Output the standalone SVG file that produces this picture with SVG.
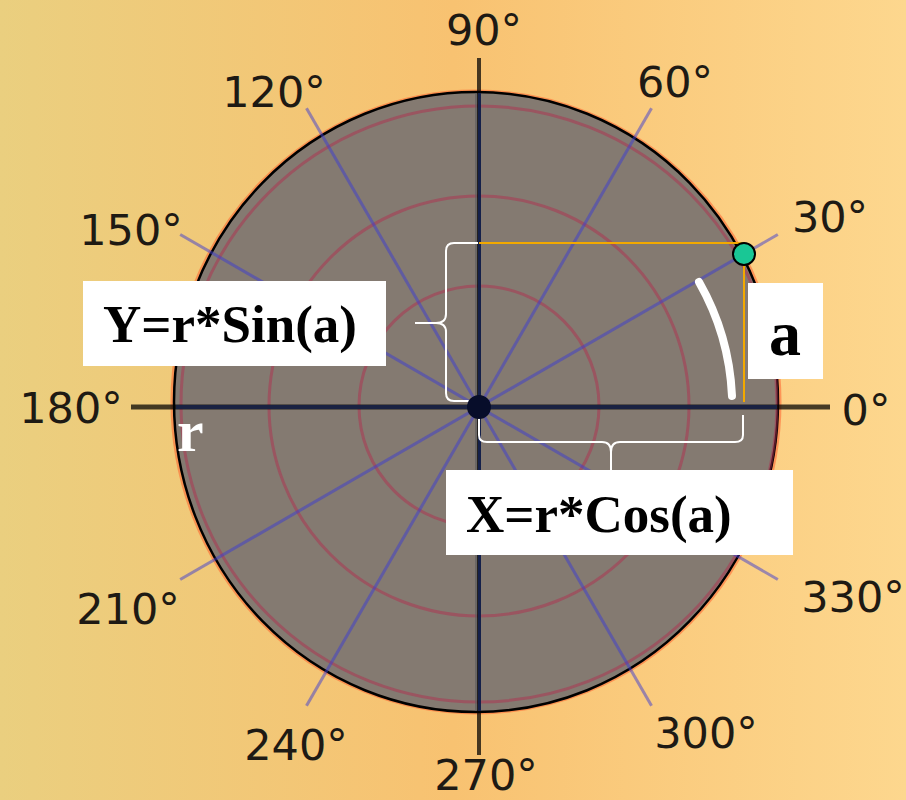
<svg xmlns="http://www.w3.org/2000/svg" width="906" height="800" viewBox="0 0 906 800">
  <defs>
    <linearGradient id="bg" x1="0" y1="0" x2="1" y2="0">
      <stop offset="0" stop-color="#eacf7f"/>
      <stop offset="0.5" stop-color="#f8c271"/>
      <stop offset="1" stop-color="#fdd78e"/>
    </linearGradient>
  </defs>
  <style>
    .deg { font-family: "DejaVu Sans", sans-serif; font-size: 43px; fill: #1e1a14; text-anchor: middle; }
    .formula { font-family: "Liberation Serif", serif; font-weight: bold; font-size: 53px; fill: #000; }
    .big { font-size: 64px; text-anchor: middle; }
    .white { font-size: 60px; fill: #ffffff; }
    .box { fill: #ffffff; }
    .spoke { stroke: #3c3cd2; stroke-opacity: 0.5; stroke-width: 3; }
    .ring { fill: none; stroke: #b03050; stroke-opacity: 0.5; stroke-width: 3; }
    .brace { fill: none; stroke: #ffffff; stroke-width: 2; }
  </style>
  <rect width="906" height="800" fill="url(#bg)"/>

  <g id="disc">
    <ellipse cx="476" cy="402" rx="304" ry="311" fill="none" stroke="#ff5a28" stroke-opacity="0.5" stroke-width="3"/>
    <ellipse cx="476" cy="402" rx="302" ry="310" fill="#847a71" stroke="#000" stroke-width="2.5"/>
  </g>

  <g id="rings">
    <circle class="ring" cx="479" cy="406" r="120"/>
    <circle class="ring" cx="479" cy="406" r="210"/>
    <circle class="ring" cx="479" cy="404" r="298" stroke-opacity="0.35"/>
  </g>

  <g id="spokes">
    <line class="spoke" x1="777.8" y1="234.5" x2="180.2" y2="579.5"/>
    <line class="spoke" x1="651.5" y1="108.2" x2="306.5" y2="705.8"/>
    <line class="spoke" x1="306.5" y1="108.2" x2="651.5" y2="705.8"/>
    <line class="spoke" x1="180.2" y1="234.5" x2="777.8" y2="579.5"/>
  </g>

  <g id="axes">
    <line x1="131" y1="407" x2="830" y2="407" stroke="#000" stroke-opacity="0.72" stroke-width="5"/>
    <line x1="479" y1="58" x2="479" y2="755" stroke="#000" stroke-opacity="0.72" stroke-width="4"/>
    <line x1="176" y1="407" x2="777" y2="407" stroke="#1a2242" stroke-width="4"/>
    <line x1="479.5" y1="93" x2="479.5" y2="711" stroke="#14204a" stroke-width="3"/>
    <line x1="476" y1="93" x2="476" y2="711" stroke="#5a5a5e" stroke-opacity="0.6" stroke-width="2"/>
  </g>

  <g id="degree-labels">
    <text class="deg" x="484" y="45">90°</text>
    <text class="deg" x="675" y="97">60°</text>
    <text class="deg" x="274" y="107">120°</text>
    <text class="deg" x="830" y="232">30°</text>
    <text class="deg" x="131" y="245">150°</text>
    <text class="deg" x="71" y="423">180°</text>
    <text class="deg" x="866" y="425">0°</text>
    <text class="deg" x="128" y="624">210°</text>
    <text class="deg" x="853" y="612">330°</text>
    <text class="deg" x="296" y="760">240°</text>
    <text class="deg" x="486" y="790">270°</text>
    <text class="deg" x="706" y="748">300°</text>
  </g>

  <g id="projection">
    <path d="M 479 243 H 744 V 402" fill="none" stroke="#f2a900" stroke-width="2"/>
  </g>

  <g id="angle-arc">
    <path d="M 699 282 A 253 253 0 0 1 732 396" fill="none" stroke="#ffffff" stroke-width="8" stroke-linecap="round"/>
  </g>

  <g id="braces">
    <path class="brace" d="M 478 243 L 454 243 Q 446 243 446 251 L 446 314 Q 446 323 436 323 L 415 323 M 436 323 Q 446 323 446 332 L 446 393 Q 446 401 454 401 L 473 401"/>
    <path class="brace" d="M 479 414 L 479 435 Q 479 442 487 442 L 602 442 Q 611 442 611 452 L 611 470 M 611 452 Q 611 442 620 442 L 735 442 Q 743 442 743 435 L 743 415"/>
  </g>

  <g id="center">
    <circle cx="479" cy="407" r="12" fill="#070d2a"/>
  </g>

  <g id="point">
    <circle cx="744" cy="254" r="11" fill="#19c795" stroke="#000" stroke-width="2"/>
  </g>

  <g id="label-y">
    <rect class="box" x="83" y="281" width="303" height="85"/>
    <text class="formula" x="103" y="342">Y=r*Sin(a)</text>
  </g>

  <g id="label-x">
    <rect class="box" x="446" y="470" width="347" height="85"/>
    <text class="formula" x="466" y="532">X=r*Cos(a)</text>
  </g>

  <g id="label-a">
    <rect class="box" x="748" y="283" width="75" height="96"/>
    <text class="formula big" x="785" y="355">a</text>
  </g>

  <g id="label-r">
    <text class="formula white" x="177" y="451">r</text>
  </g>
</svg>
